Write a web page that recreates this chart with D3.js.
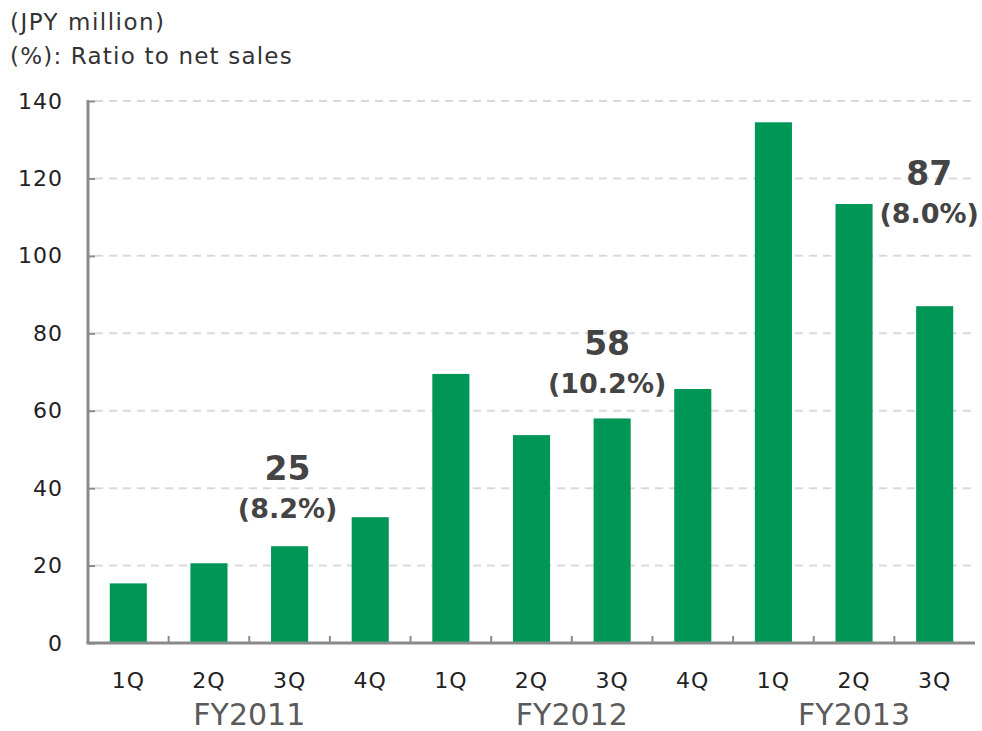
<!DOCTYPE html>
<html>
<head>
<meta charset="utf-8">
<script src="https://cdn.jsdelivr.net/npm/d3@7"></script>
<style>
  html, body { margin: 0; padding: 0; background: #fff; }
  svg { display: block; font-family: "DejaVu Sans", "Noto Sans", sans-serif; }
</style>
</head>
<body>
<svg id="chart" width="982" height="731"></svg>
<script>
// Quarterly figures (JPY million)
const quarters = ["1Q", "2Q", "3Q", "4Q", "1Q", "2Q", "3Q", "4Q", "1Q", "2Q", "3Q"];
const fiscalYears = ["FY2011", "FY2011", "FY2011", "FY2011", "FY2012", "FY2012", "FY2012", "FY2012", "FY2013", "FY2013", "FY2013"];
const values = [15.4, 20.6, 25, 32.5, 69.5, 53.7, 58, 65.6, 134.5, 113.4, 87];
const yTicks = [0, 20, 40, 60, 80, 100, 120, 140];
const yearLabels = ["FY2011", "FY2012", "FY2013"];
// Highlighted quarters: bar index, value text, ratio to net sales
const calloutIndex = [2, 6, 10];
const calloutValue = ["25", "58", "87"];
const calloutRatio = ["(8.2%)", "(10.2%)", "(8.0%)"];

const svg = d3.select("#chart");
const margin = { left: 88, right: 975, top: 101, bottom: 643 };
const green = "#009655";
const axisGrey = "#8a8a8a";

const x = d3.scaleBand()
  .domain(d3.range(values.length))
  .range([margin.left, margin.right])
  .paddingInner(0.54)
  .paddingOuter(0.27);

const y = d3.scaleLinear().domain([0, 140]).range([margin.bottom, margin.top]);

// Unit notes
svg.append("text").attr("x", 10).attr("y", 30).attr("font-size", 23)
  .attr("letter-spacing", 1.5).attr("fill", "#333").text("(JPY million)");
svg.append("text").attr("x", 10).attr("y", 64).attr("font-size", 23)
  .attr("letter-spacing", 1.2).attr("fill", "#333").text("(%): Ratio to net sales");

// Dashed gridlines
svg.append("g").selectAll("line")
  .data(yTicks.filter(d => d > 0))
  .join("line")
  .attr("x1", margin.left + 7).attr("x2", margin.right)
  .attr("y1", d => y(d)).attr("y2", d => y(d))
  .attr("stroke", "#d9d9d9").attr("stroke-width", 2)
  .attr("stroke-dasharray", "8,6");

// Bars
svg.append("g").selectAll("rect")
  .data(values)
  .join("rect")
  .attr("x", (d, i) => x(i))
  .attr("width", x.bandwidth())
  .attr("y", d => y(d))
  .attr("height", d => y(0) - y(d))
  .attr("fill", green);

// Left axis with short inward ticks
const yAxis = svg.append("g")
  .attr("transform", `translate(${margin.left},0)`)
  .call(d3.axisLeft(y).tickValues(yTicks).tickSize(-7).tickPadding(25));
yAxis.select(".domain").attr("stroke", axisGrey).attr("stroke-width", 3)
  .attr("d", `M0,${margin.top - 1}V${margin.bottom}`);
yAxis.selectAll(".tick line").attr("stroke", axisGrey).attr("stroke-width", 2);
yAxis.selectAll(".tick text")
  .attr("font-size", 22).attr("letter-spacing", 1).attr("fill", "#222")
  .attr("font-family", "\"DejaVu Sans\", sans-serif");

// Bottom axis: baseline plus ticks at category boundaries
const xAxis = svg.append("g").attr("transform", `translate(0,${margin.bottom})`);
xAxis.append("line")
  .attr("x1", margin.left - 1.5).attr("x2", margin.right)
  .attr("y1", 0).attr("y2", 0)
  .attr("stroke", axisGrey).attr("stroke-width", 3);
xAxis.selectAll("line.sep")
  .data(d3.range(1, values.length))
  .join("line")
  .attr("class", "sep")
  .attr("x1", i => x(i) - x.step() * x.paddingInner() / 2)
  .attr("x2", i => x(i) - x.step() * x.paddingInner() / 2)
  .attr("y1", -7).attr("y2", 0)
  .attr("stroke", axisGrey).attr("stroke-width", 2);

// Quarter labels
svg.append("g").selectAll("text")
  .data(quarters)
  .join("text")
  .attr("x", (d, i) => x(i) + x.bandwidth() / 2)
  .attr("y", 688)
  .attr("text-anchor", "middle")
  .attr("font-size", 22)
  .attr("letter-spacing", 1)
  .attr("fill", "#222")
  .text(d => d);

// Fiscal year labels, centred under each year's quarters
svg.append("g").selectAll("text")
  .data(yearLabels)
  .join("text")
  .attr("x", fy => {
    const idx = d3.range(values.length).filter(i => fiscalYears[i] === fy);
    return (x(idx[0]) + x(idx[idx.length - 1]) + x.bandwidth()) / 2;
  })
  .attr("y", 725)
  .attr("text-anchor", "middle")
  .attr("font-size", 30)
  .attr("fill", "#5a5a5a")
  .text(d => d);

// Callouts above selected bars
const calloutLevel = [32.3, 64.6, 108.5];
const calloutShift = [-2, -5, -5.5];
calloutIndex.forEach((idx, k) => {
  const cx = x(idx) + x.bandwidth() / 2 + calloutShift[k];
  const base = y(calloutLevel[k]);
  svg.append("text")
    .attr("x", cx).attr("y", base - 38)
    .attr("text-anchor", "middle")
    .attr("font-size", 33).attr("font-weight", "bold").attr("fill", "#444")
    .text(calloutValue[k]);
  svg.append("text")
    .attr("x", cx).attr("y", base)
    .attr("text-anchor", "middle")
    .attr("font-size", 27).attr("font-weight", "bold").attr("fill", "#444")
    .text(calloutRatio[k]);
});
</script>
</body>
</html>
